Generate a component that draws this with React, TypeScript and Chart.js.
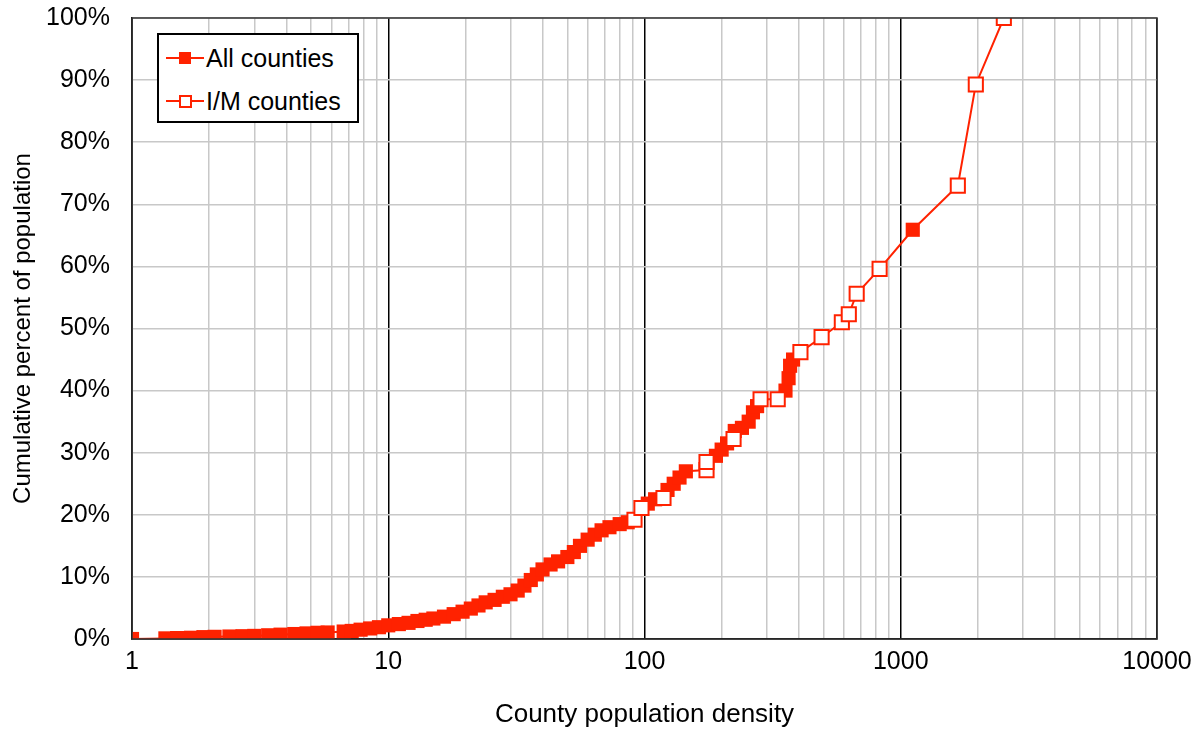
import React, { useEffect, useRef } from "react";
import { Chart, registerables } from "chart.js";
Chart.register(...registerables);

const density = [1,1.35,1.5,1.7,1.9,2.1,2.4,2.7,3.0,3.4,3.8,4.3,4.8,5.3,5.8,6.7,7.2,7.8,8.5,9.2,10,11,12,13,14,15,16.5,18,19.5,21,22.5,24,26,28,30,32,34,36,38,40,43,46,50,53,56,60,64,68,73,80,86,91.4,97.3,103,110,118.6,123,130,137,145,174.6,174.6,190,200,210,222.6,225,240,255,265,275,283.8,331,355,365,370,380,406,491,589,627,673,827,1114,1670,1963,2525];
const cumPct = [0,0.1,0.15,0.2,0.3,0.35,0.4,0.45,0.5,0.6,0.7,0.8,0.9,1.0,1.05,1.2,1.3,1.5,1.7,1.9,2.2,2.4,2.6,2.9,3.1,3.3,3.6,4.0,4.4,4.9,5.4,5.9,6.3,6.8,7.2,7.8,8.6,9.5,10.4,11.2,12.0,12.5,13.2,14.0,15.0,16.0,16.8,17.5,18.0,18.5,18.8,19.2,21.1,21.8,22.5,22.7,24.0,25.0,26.0,27.0,27.2,28.5,29.5,30.5,31.5,32.2,33.5,34.0,35.0,36.5,37.5,38.6,38.6,40.0,42.0,44.0,45.0,46.2,48.6,51.0,52.3,55.6,59.6,65.9,73.0,89.3,100];
const imDensity = [91.4,97.3,118.6,174.6,174.6,222.6,283.8,331,406,491,589,627,673,827,1670,1963,2525];
const imPct = [19.2,21.1,22.7,27.2,28.5,32.2,38.6,38.6,46.2,48.6,51.0,52.3,55.6,59.6,73.0,89.3,100];
const xTicks = [1,2,3,4,5,6,7,8,9,10,20,30,40,50,60,70,80,90,100,200,300,400,500,600,700,800,900,1000,2000,3000,4000,5000,6000,7000,8000,9000,10000];
const decades = [1,10,100,1000,10000];
const RED = "#ff2200";
const FONT = "'Liberation Sans', Arial, sans-serif";

export default function App() {
  const ref = useRef<HTMLCanvasElement>(null);
  useEffect(() => {
    const ctx = ref.current!;
    const chart = new Chart(ctx, {
      type: "scatter",
      data: {
        datasets: [
          {
            label: "All counties",
            order: 2,
            data: density.map((x, i) => ({ x, y: cumPct[i] })),
            showLine: true,
            borderColor: RED,
            borderWidth: 2,
            backgroundColor: RED,
            pointBackgroundColor: RED,
            pointStyle: "rect",
            pointRadius: 10,
            pointBorderWidth: 0,
          },
          {
            label: "I/M counties",
            order: 1,
            data: imDensity.map((x, i) => ({ x, y: imPct[i] })),
            showLine: false,
            borderColor: RED,
            backgroundColor: "#ffffff",
            pointBackgroundColor: "#ffffff",
            pointBorderColor: RED,
            pointStyle: "rect",
            pointRadius: 10,
            pointBorderWidth: 2,
          },
        ],
      },
      options: {
        animation: false,
        responsive: false,
        layout: { padding: { left: 0, top: 18, right: 41, bottom: 0 } },
        plugins: { legend: { display: false }, tooltip: { enabled: false } },
        scales: {
          x: {
            type: "logarithmic",
            min: 1,
            max: 10000,
            afterBuildTicks: (s: any) => { s.ticks = xTicks.map((v) => ({ value: v })); },
            afterFit: (s: any) => { s.height = 91; s.paddingLeft = 0; s.paddingRight = 0; },
            ticks: {
              autoSkip: false,
              maxRotation: 0,
              color: "#000",
              padding: 8,
              font: { family: FONT, size: 25 },
              callback: (v: any) => (decades.includes(Number(v)) ? String(v) : ""),
            },
            grid: {
              color: (c: any) => (decades.includes(c.tick?.value) ? "#000" : "#c8c8c8"),
              lineWidth: 1.5,
              drawTicks: false,
            },
            border: { color: "#000", width: 1.5 },
            title: {
              display: true,
              text: "County population density",
              color: "#000",
              font: { family: FONT, size: 26 },
              padding: { top: 12, bottom: 0 },
            },
          },
          y: {
            min: 0,
            max: 100,
            afterFit: (s: any) => { s.width = 132; s.paddingTop = 0; s.paddingBottom = 0; },
            ticks: {
              stepSize: 10,
              color: "#000",
              padding: 22,
              font: { family: FONT, size: 25 },
              callback: (v: any) => v + "%",
            },
            grid: { color: "#c8c8c8", lineWidth: 1.5, drawTicks: false },
            border: { color: "#000", width: 1.5 },
            title: {
              display: true,
              text: "Cumulative percent of population",
              color: "#000",
              font: { family: FONT, size: 24 },
              padding: { top: 9, bottom: 0 },
            },
          },
        },
      },
      plugins: [
        {
          id: "frame",
          afterDraw(c: any) {
            const { left, right, top, bottom } = c.chartArea;
            const g = c.ctx;
            g.save();
            g.strokeStyle = "#333";
            g.lineWidth = 1.5;
            g.strokeRect(left, top, right - left, bottom - top);
            g.restore();
          },
        },
      ],
    } as any);
    return () => chart.destroy();
  }, []);

  const row = (filled: boolean, label: string, top: number) => (
    <div style={{ position: "absolute", left: 166, top, height: 26, display: "flex", alignItems: "center" }}>
      <div style={{ position: "relative", width: 38, height: 26 }}>
        <div style={{ position: "absolute", left: 0, top: 12, width: 38, height: 2, background: RED }} />
        <div style={{ position: "absolute", left: 13, top: 7, width: filled ? 12 : 9, height: filled ? 12 : 9, background: filled ? RED : "#fff", border: filled ? "none" : `2px solid ${RED}` }} />
      </div>
      <span style={{ fontFamily: FONT, fontSize: 25, marginLeft: 2, color: "#000" }}>{label}</span>
    </div>
  );

  return (
    <div style={{ position: "absolute", left: 0, top: 0, width: 1198, height: 730, background: "#fff" }}>
      <canvas ref={ref} width={1198} height={730} style={{ width: 1198, height: 730 }} />
      <div style={{ position: "absolute", left: 157, top: 33, width: 198, height: 86, border: "2px solid #000", background: "#fff" }} />
      {row(true, "All counties", 45)}
      {row(false, "I/M counties", 88)}
    </div>
  );
}
